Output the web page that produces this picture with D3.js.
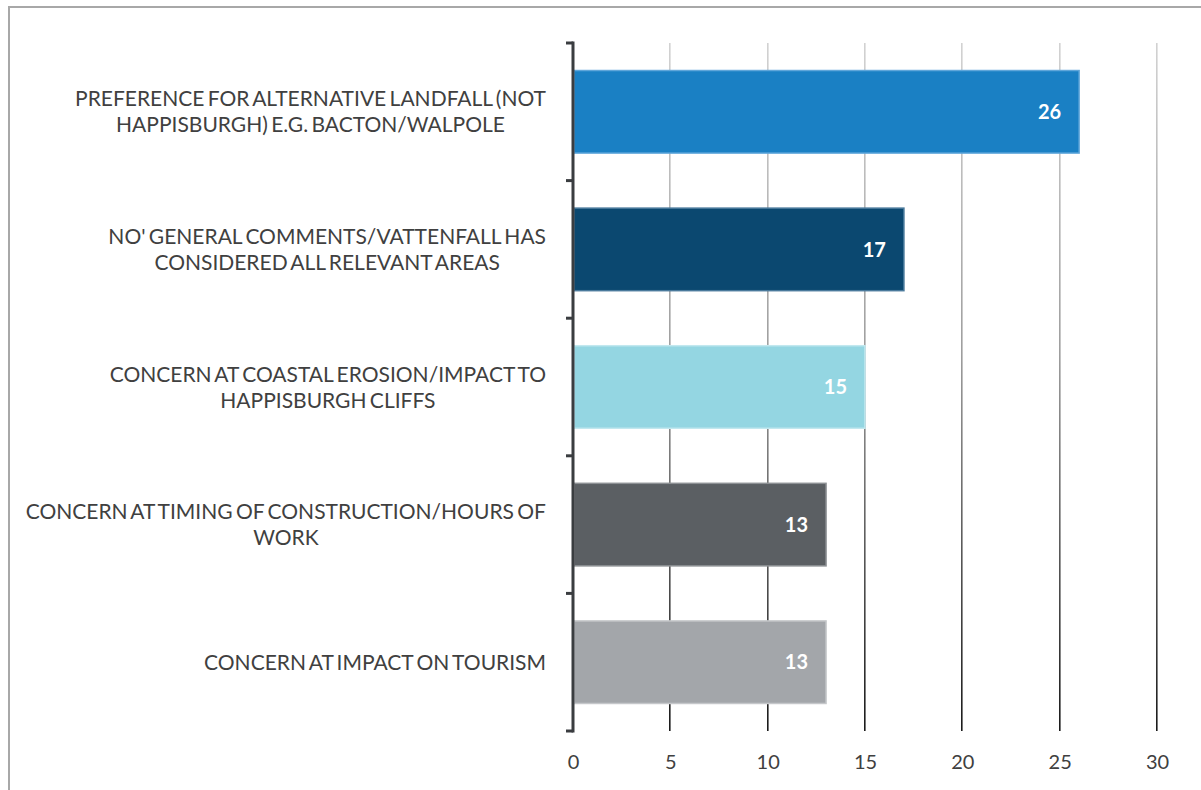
<!DOCTYPE html>
<html>
<head>
<meta charset="utf-8">
<script src="https://cdn.jsdelivr.net/npm/d3@7"></script>
<style>
  html, body { margin: 0; padding: 0; background: #fff; }
  svg { display: block; }
  .cat { font-family: Lato, "Open Sans", sans-serif; font-size: 21px; fill: #404040; word-spacing: -2px; }
  .tick-label { font-family: Lato, "Open Sans", sans-serif; font-size: 20px; fill: #404040; }
  .val { font-family: Lato, "Open Sans", sans-serif; font-size: 20px; font-weight: bold; fill: #fff; }
</style>
</head>
<body>
<script>
// Responses by theme (count of comments)
const categories = [
  ["PREFERENCE FOR ALTERNATIVE LANDFALL (NOT", "HAPPISBURGH) E.G. BACTON/WALPOLE"],
  ["NO' GENERAL COMMENTS/VATTENFALL HAS", "CONSIDERED ALL RELEVANT AREAS"],
  ["CONCERN AT COASTAL EROSION/IMPACT TO", "HAPPISBURGH CLIFFS"],
  ["CONCERN AT TIMING OF CONSTRUCTION/HOURS OF", "WORK"],
  ["CONCERN AT IMPACT ON TOURISM"]
];
const values = [26, 17, 15, 13, 13];
const barColors = ["#1a80c4", "#0b4870", "#94d6e2", "#5b5f63", "#a3a6aa"];
const barEdges = ["#5fa6da", "#4a7a9c", "#c2e8ef", "#8d9094", "#c5c7ca"];
const xTicks = [0, 5, 10, 15, 20, 25, 30];

const W = 1201, H = 790;
const svg = d3.select("body").append("svg").attr("width", W).attr("height", H);

// outer frame
svg.append("rect").attr("x", 9).attr("y", 7).attr("width", W + 20).attr("height", H + 20)
  .attr("fill", "none").attr("stroke", "#a8a8a8").attr("stroke-width", 2);

const plot = { left: 573, right: 1157, top: 43, bottom: 731 };

const x = d3.scaleLinear().domain([0, 30]).range([plot.left, plot.right]);
const y = d3.scaleBand().domain(d3.range(categories.length))
  .range([plot.top, plot.bottom]).paddingInner(0.4).paddingOuter(0.2);

// gridlines shade from light grey at the top to near black at the bottom
const defs = svg.append("defs");
const grad = defs.append("linearGradient").attr("id", "gridShade")
  .attr("gradientUnits", "userSpaceOnUse")
  .attr("x1", 0).attr("y1", plot.top).attr("x2", 0).attr("y2", plot.bottom);
grad.append("stop").attr("offset", "0%").attr("stop-color", "#d2d2d2");
grad.append("stop").attr("offset", "45%").attr("stop-color", "#9e9e9e");
grad.append("stop").attr("offset", "100%").attr("stop-color", "#1a1a1a");

svg.append("g").selectAll("rect").data(xTicks.filter(d => d > 0)).join("rect")
  .attr("x", d => Math.round(x(d)) - 1)
  .attr("y", plot.top)
  .attr("width", 1.6)
  .attr("height", plot.bottom - plot.top)
  .attr("fill", "url(#gridShade)");

// x tick labels
const xAxis = d3.axisBottom(x).tickValues(xTicks).tickSize(0).tickPadding(0);
const gx = svg.append("g").attr("transform", `translate(0,${plot.bottom + 38})`).call(xAxis);
gx.select(".domain").remove();
gx.selectAll("text").attr("class", "tick-label").attr("dy", 0).attr("font-size", null).attr("font-family", null).attr("fill", null);

// bars
svg.append("g").selectAll("rect").data(values).join("rect")
  .attr("x", x(0) + 1)
  .attr("y", (d, i) => y(i))
  .attr("width", d => x(d) - x(0) - 1)
  .attr("height", y.bandwidth())
  .attr("fill", (d, i) => barColors[i])
  .attr("stroke", (d, i) => barEdges[i])
  .attr("stroke-width", 1.5);

// value labels
svg.append("g").selectAll("text").data(values).join("text")
  .attr("class", "val")
  .attr("x", d => x(d) - 18)
  .attr("y", (d, i) => y(i) + y.bandwidth() / 2)
  .attr("dy", "0.36em")
  .attr("text-anchor", "end")
  .text(d => d);

// category axis with boundary ticks
const axisG = svg.append("g");
const bounds = d3.range(categories.length + 1).map(i => plot.top + i * (plot.bottom - plot.top) / categories.length);
axisG.selectAll("line.tk").data(bounds).join("line")
  .attr("x1", plot.left - 7).attr("x2", plot.left)
  .attr("y1", d => d).attr("y2", d => d)
  .attr("stroke", "#3a3d40").attr("stroke-width", 3);
axisG.append("line")
  .attr("x1", plot.left).attr("x2", plot.left)
  .attr("y1", plot.top - 1.5).attr("y2", plot.bottom + 1.5)
  .attr("stroke", "#3a3d40").attr("stroke-width", 3);

// category labels: centred lines, block right-aligned against the axis
const labelRight = 546;
const lineH = 26;
categories.forEach((lines, i) => {
  const cy = y(i) + y.bandwidth() / 2;
  const g = svg.append("g");
  const texts = g.selectAll("text").data(lines).join("text")
    .attr("class", "cat")
    .attr("text-anchor", "middle")
    .attr("y", (d, j) => cy + (j - (lines.length - 1) / 2) * lineH)
    .attr("dy", "0.36em")
    .text(d => d);
  let maxW = 0;
  texts.each(function () { maxW = Math.max(maxW, this.getComputedTextLength()); });
  texts.attr("x", labelRight - maxW / 2);
});
</script>
</body>
</html>
